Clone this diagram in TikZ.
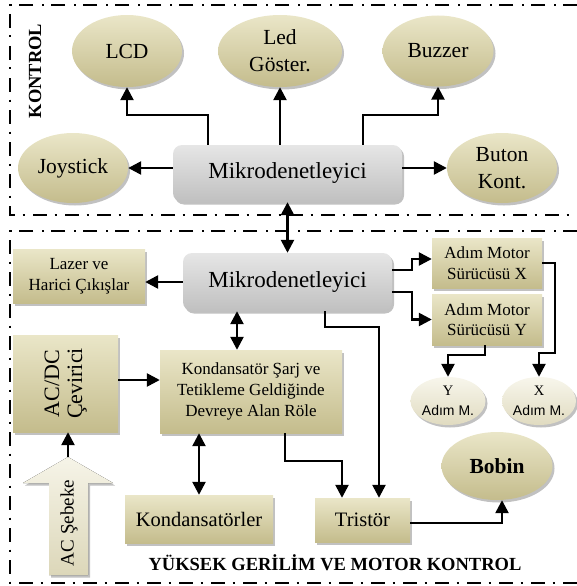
\documentclass[tikz,border=0pt]{standalone}
\usepackage{fontspec}
\setmainfont{Liberation Serif}
\newfontfamily\arialf{Liberation Sans}
\usetikzlibrary{arrows.meta,shapes.geometric,shadows}
\definecolor{kT}{RGB}{234,230,200}
\definecolor{kB}{RGB}{196,188,140}
\definecolor{lT}{RGB}{248,246,236}
\definecolor{lB}{RGB}{224,219,192}
\definecolor{gT}{RGB}{230,230,230}
\definecolor{gB}{RGB}{192,192,192}
\definecolor{aT}{RGB}{246,244,232}
\definecolor{aB}{RGB}{220,215,185}
\tikzset{
  shad/.style={drop shadow={shadow xshift=2pt,shadow yshift=-2.5pt,opacity=0.35,fill=black!70}},
  ell/.style={ellipse, shad, top color=kT, bottom color=kB, inner sep=0pt, align=center,
    font=\fontsize{21.5}{27}\selectfont},
  sell/.style={ellipse, shad, top color=lT, bottom color=lB, inner sep=0pt, align=center,
    minimum width=75pt, minimum height=48pt, font=\fontsize{14.5}{20}\selectfont},
  kbox/.style={rectangle, shad, top color=kT, bottom color=kB, inner sep=0pt, align=center,
    font=\fontsize{17}{20.5}\selectfont},
  mbox/.style={rectangle, rounded corners=9pt, shad, top color=gT, bottom color=gB, inner sep=0pt,
    font=\fontsize{23}{27}\selectfont},
  arr/.style={line width=2.5pt, -{Triangle[width=13pt,length=13pt]}},
  darr/.style={line width=2.5pt, {Triangle[width=13pt,length=13pt]}-{Triangle[width=13pt,length=13pt]}},
  frame/.style={line width=1.3pt, dash pattern=on 14pt off 7.5pt on 2pt off 8.5pt},
  lbl/.style={font=\fontsize{18.5}{22}\selectfont\bfseries, inner sep=0pt}
}
\begin{document}
\begin{tikzpicture}[x=1pt,y=-1pt]
\useasboundingbox (0,0) rectangle (577,586);
% frames
\draw[frame] (577,5) -- (10,5) -- (10,215) -- (577,215);
\draw[frame] (577,231) -- (10,231) -- (10,583) -- (577,583);
\node[lbl, rotate=90] (kontrol) at (35,71) {KONTROL};
\node[lbl] (yuksek) at (335,563) {YÜKSEK GERİLİM VE MOTOR KONTROL};
% top section
\node[ell, minimum width=110pt, minimum height=72pt] (lcd) at (127,51) {LCD};
\node[ell, minimum width=124pt, minimum height=72pt] (led) at (280,51) {Led\\Göster.};
\node[ell, minimum width=111pt, minimum height=71pt] (buz) at (438,51) {Buzzer};
\node[ell, minimum width=110pt, minimum height=70pt] (joy) at (73,168) {Joystick};
\node[ell, minimum width=110pt, minimum height=70pt] (but) at (502,168) {Buton\\Kont.};
\node[mbox, minimum width=229pt, minimum height=57pt] (mk1) at (287.5,173.5) {Mikrodenetleyici};
% bottom section
\node[mbox, minimum width=209pt, minimum height=58pt] (mk2) at (287.5,282) {Mikrodenetleyici};
\node[kbox, minimum width=132pt, minimum height=54pt] (laz) at (79,276) {Lazer ve\\Harici Çıkışlar};
\node[kbox, minimum width=110pt, minimum height=50pt] (amx) at (487,263) {Adım Motor\\Sürücüsü X};
\node[kbox, minimum width=110pt, minimum height=51pt] (amy) at (487,319.5) {Adım Motor\\Sürücüsü Y};
\node[sell] (yad) at (448,401) {Y\\{\arialf\fontsize{14}{20}\selectfont Adım M.}};
\node[sell, minimum width=74pt] (xad) at (539,401) {X\\{\arialf\fontsize{14}{20}\selectfont Adım M.}};
\node[kbox, minimum width=105pt, minimum height=97pt, font=\fontsize{22}{26}\selectfont] (acdc) at (65.5,383.5) {\rotatebox{90}{\begin{tabular}{@{}c@{}}AC/DC\\[-3pt]Çevirici\end{tabular}}};
\node[kbox, minimum width=182pt, minimum height=83pt, font=\fontsize{17}{21}\selectfont] (kon) at (251,391.5) {Kondansatör Şarj ve\\Tetikleme Geldiğinde\\Devreye Alan Röle};
\node[kbox, minimum width=148pt, minimum height=48pt, font=\fontsize{20.5}{24}\selectfont] (kds) at (199,519) {Kondansatörler};
\node[kbox, minimum width=95pt, minimum height=44pt, font=\fontsize{20.5}{24}\selectfont] (tri) at (362.5,520) {Tristör};
\node[ell, minimum width=111pt, minimum height=68pt, font=\fontsize{21.5}{27}\selectfont\bfseries] (bob) at (497,466) {Bobin};
% AC Sebeke big arrow
\fill[shad, top color=aT, bottom color=aB] (49,575) -- (49,483) -- (23,483) -- (68,457) -- (113,483) -- (88,483) -- (88,575) -- cycle;
\coordinate (acs) at (68,457);
\node[rotate=90, font=\fontsize{19}{22}\selectfont, inner sep=0pt] (acst) at (69,523) {AC Şebeke};
% top arrows
\draw[arr] ([xshift=-79.5pt]mk1.north) -- ++(0,-30) -| (lcd.south);
\draw[arr] (mk1.north -| led.south) -- (led.south);
\draw[arr] ([xshift=75.5pt]mk1.north) -- ++(0,-30) -| (buz.south);
\draw[arr] (mk1.west |- joy.east) -- (joy.east);
\draw[arr] (mk1.east |- but.west) -- (but.west);
\draw[darr] (mk1.south) -- (mk2.north);
% bottom arrows
\draw[arr] (mk2.west) -- (mk2.west -| laz.east);
\coordinate (ax) at ([yshift=4pt]amx.west);
\draw[arr] ([yshift=12pt]mk2.east) -- ++(20,0) |- (ax);
\draw[arr] ([yshift=-10pt]mk2.east) -- ++(20,0) |- (amy.west);
\draw[arr] (amx.east) -| ++(13,90) -| (xad.north);
\draw[arr] ([xshift=-2pt]amy.south) -- ++(0,10) -| (yad.north);
\coordinate (c1) at ([yshift=3.5pt]acdc.east);
\draw[arr] (c1) -- (c1 -| kon.west);
\coordinate (c2) at ([xshift=-50.5pt]mk2.south);
\draw[darr] (c2) -- (c2 |- kon.north);
\draw[darr] (kon.south -| kds.north) -- (kds.north);
\draw[arr] (acs) -- (acs |- acdc.south);
\draw[arr] ([xshift=34pt]kon.south) -- ++(0,28) -| ([xshift=-20.5pt]tri.north);
\draw[arr] ([xshift=37.5pt]mk2.south) -- ++(0,16) -| ([xshift=16.5pt]tri.north);
\draw[arr] ([yshift=-3pt]tri.east) -| ([xshift=5pt]bob.south);
\end{tikzpicture}
\end{document}
